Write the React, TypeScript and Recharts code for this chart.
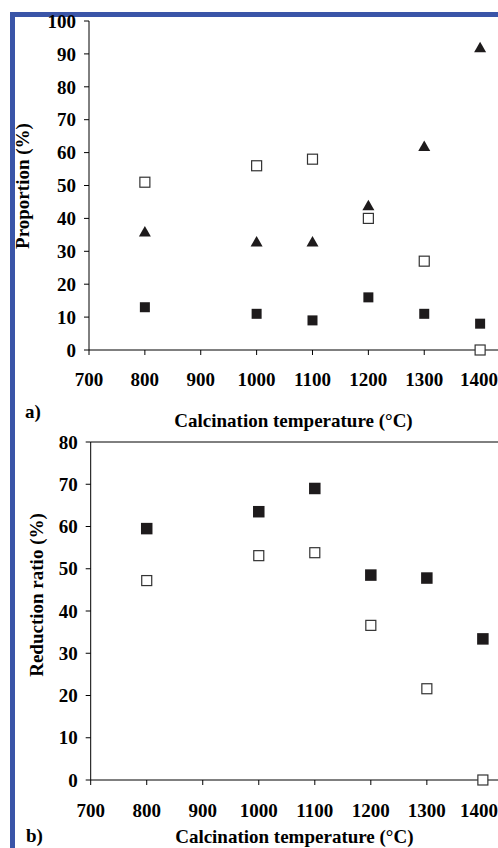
import React from "react";
import {
  ScatterChart,
  Scatter,
  XAxis,
  YAxis,
  ReferenceLine,
  Label,
} from "recharts";

// calcination temperatures (°C)
const tempsA = [800, 1000, 1100, 1200, 1300, 1400];
const tempsB = [800, 1000, 1100, 1200, 1300, 1400];

// panel a) proportion (%)
const filledA = [13, 11, 9, 16, 11, 8];
const openA = [51, 56, 58, 40, 27, 0];
const triangleA = [36, 33, 33, 44, 62, 92];

// panel b) reduction ratio (%)
const filledB = [59.5, 63.5, 69, 48.5, 47.8, 33.4];
const openB = [47.2, 53.1, 53.8, 36.6, 21.6, 0];

const xTicks = [700, 800, 900, 1000, 1100, 1200, 1300, 1400];
const yTicksA = [0, 10, 20, 30, 40, 50, 60, 70, 80, 90, 100];
const yTicksB = [0, 10, 20, 30, 40, 50, 60, 70, 80];

const toPoints = (xs: number[], ys: number[]) => xs.map((x, i) => ({ x, y: ys[i] }));

const INK = "#1e1b1c";
const FONT = "'Liberation Serif', 'Times New Roman', serif";
const tickStyle = { fontFamily: FONT, fontWeight: 700, fontSize: 19, fill: "#000" };

const filledSquare = (s: number) => (p: any) =>
  <rect x={p.cx - s / 2} y={p.cy - s / 2} width={s} height={s} fill={INK} />;
const openSquare = (s: number) => (p: any) =>
  <rect x={p.cx - s / 2} y={p.cy - s / 2} width={s} height={s} fill="#fff" stroke="#333" strokeWidth={1.2} />;
const triangle = (p: any) => (
  <path d={`M${p.cx},${p.cy - 5.5} L${p.cx + 6},${p.cy + 5} L${p.cx - 6},${p.cy + 5} Z`} fill={INK} />
);

const titleStyle: React.CSSProperties = {
  position: "absolute",
  fontFamily: FONT,
  fontWeight: 700,
  fontSize: 19,
  lineHeight: "19px",
  color: "#000",
};

export default function App() {
  return (
    <div
      style={{
        position: "absolute",
        left: 0,
        top: 0,
        width: 498,
        height: 848,
        background: "#fff",
        overflow: "hidden",
      }}
    >
      {/* blue frame of the scanned page */}
      <div
        style={{
          position: "absolute",
          left: 10,
          top: 12,
          width: 488,
          height: 836,
          borderLeft: "5px solid #3a55a8",
          borderTop: "5px solid #3a55a8",
          boxSizing: "border-box",
        }}
      />

      <div style={{ position: "absolute", left: 0, top: 0 }}>
        <ScatterChart width={498} height={440} margin={{ top: 21, right: 0, left: 0, bottom: 0 }}>
          <XAxis
            type="number"
            dataKey="x"
            domain={[700, 1432]}
            ticks={xTicks}
            allowDataOverflow
            height={90}
            stroke="#000"
            tickSize={5}
            tickMargin={18}
            tick={tickStyle}
          >
            <Label
              value="Calcination temperature (°C)"
              position="insideBottom"
              offset={13}
              style={tickStyle}
            />
          </XAxis>
          <YAxis
            type="number"
            dataKey="y"
            domain={[0, 100]}
            ticks={yTicksA}
            width={89}
            stroke="#000"
            tickSize={5}
            tickMargin={8}
            tick={tickStyle}
          >
            <Label
              content={() => (
                <text
                  x={29}
                  y={186}
                  transform="rotate(-90 29 186)"
                  textAnchor="middle"
                  style={tickStyle}
                >
                  Proportion (%)
                </text>
              )}
            />
          </YAxis>
          <Scatter data={toPoints(tempsA, openA)} shape={openSquare(10)} isAnimationActive={false} />
          <Scatter data={toPoints(tempsA, triangleA)} shape={triangle} isAnimationActive={false} />
          <Scatter data={toPoints(tempsA, filledA)} shape={filledSquare(10)} isAnimationActive={false} />
        </ScatterChart>
      </div>
      <div style={{ ...titleStyle, left: 25, top: 402 }}>a)</div>

      <div style={{ position: "absolute", left: 0, top: 430 }}>
        <ScatterChart width={498} height={418} margin={{ top: 12, right: 0, left: 0, bottom: 0 }}>
          <XAxis
            type="number"
            dataKey="x"
            domain={[700, 1427]}
            ticks={xTicks}
            allowDataOverflow
            height={68}
            stroke="#000"
            tickSize={5}
            tickMargin={19}
            tick={tickStyle}
          >
            <Label
              value="Calcination temperature (°C)"
              position="insideBottom"
              offset={5}
              style={tickStyle}
            />
          </XAxis>
          <YAxis
            type="number"
            dataKey="y"
            domain={[0, 80]}
            ticks={yTicksB}
            width={90.7}
            stroke="#000"
            tickSize={5}
            tickMargin={8}
            tick={tickStyle}
          >
            <Label
              content={() => (
                <text
                  x={43}
                  y={165}
                  transform="rotate(-90 43 165)"
                  textAnchor="middle"
                  style={tickStyle}
                >
                  Reduction ratio (%)
                </text>
              )}
            />
          </YAxis>
          <ReferenceLine y={80} stroke="#000" />
          <Scatter data={toPoints(tempsB, openB)} shape={openSquare(10)} isAnimationActive={false} />
          <Scatter data={toPoints(tempsB, filledB)} shape={filledSquare(11.5)} isAnimationActive={false} />
        </ScatterChart>
      </div>
      <div style={{ ...titleStyle, left: 26, top: 826 }}>b)</div>
    </div>
  );
}
